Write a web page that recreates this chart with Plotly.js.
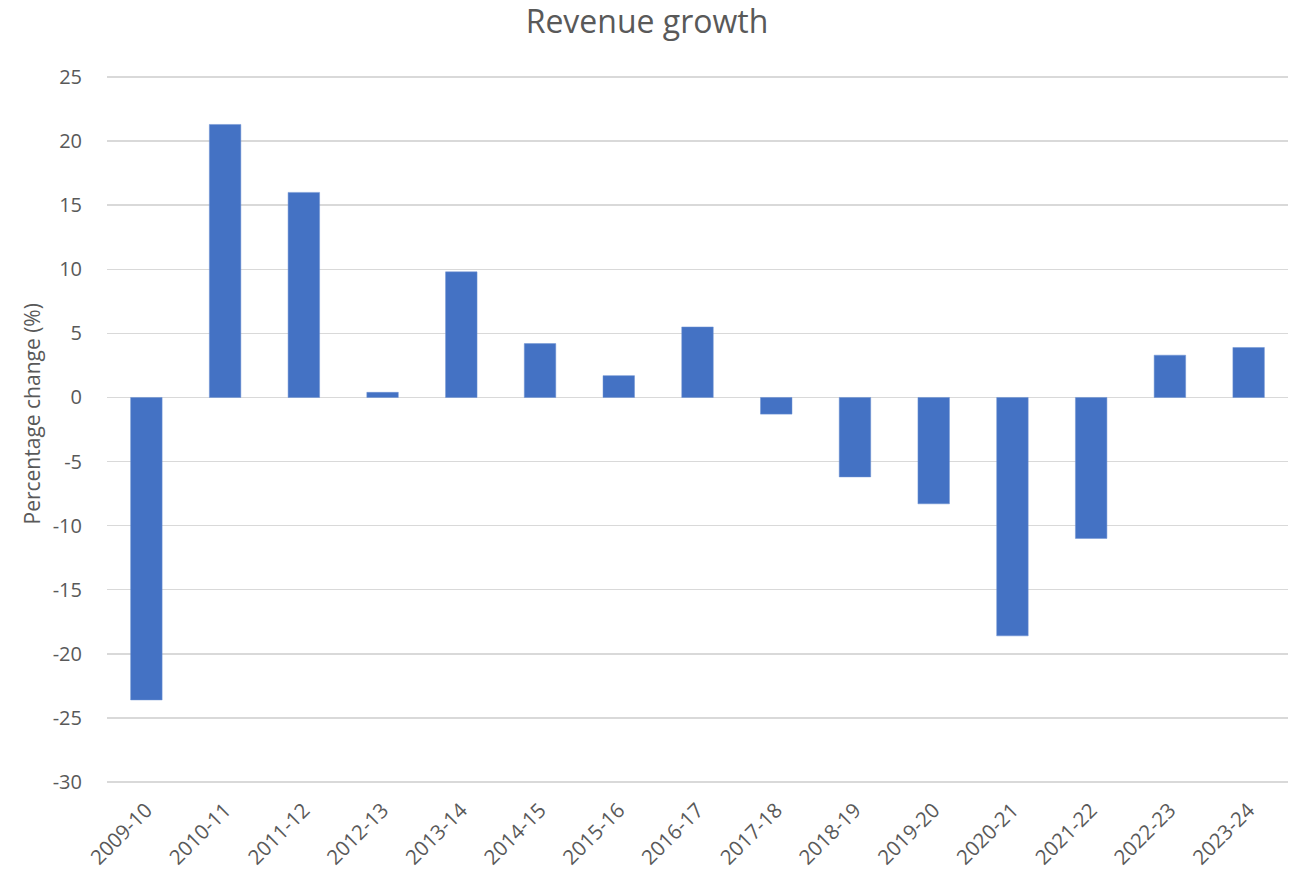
<!DOCTYPE html>
<html>
<head>
<meta charset="utf-8">
<script src="https://cdn.plot.ly/plotly-3.0.1.min.js"></script>
<style>html,body{margin:0;padding:0;background:#fff;}#chart{width:1294px;height:871px;}</style>
</head>
<body>
<div id="chart"></div>
<script>
const years = ["2009-10","2010-11","2011-12","2012-13","2013-14","2014-15","2015-16","2016-17","2017-18","2018-19","2019-20","2020-21","2021-22","2022-23","2023-24"];
const revenueGrowth = [-23.6, 21.3, 16.0, 0.4, 9.8, 4.2, 1.7, 5.5, -1.3, -6.2, -8.3, -18.6, -11.0, 3.3, 3.9];
const yTicks = [25, 20, 15, 10, 5, 0, -5, -10, -15, -20, -25, -30];

const font = "Open Sans, Noto Sans, sans-serif";
const textColor = "#595959";

Plotly.newPlot("chart", [{
  type: "bar",
  x: years,
  y: revenueGrowth,
  marker: {color: "#4472C4", line: {color: "#6f93d3", width: 0.5}},
  hoverinfo: "x+y"
}], {
  width: 1294, height: 871,
  margin: {l: 107, r: 6, t: 76, b: 88, pad: 0},
  paper_bgcolor: "#ffffff",
  plot_bgcolor: "#ffffff",
  bargap: 0.6,
  showlegend: false,
  font: {family: font, color: textColor, size: 20},
  title: {
    text: "Revenue growth",
    font: {family: font, size: 32, color: textColor},
    x: 0.5, xref: "container", xanchor: "center",
    y: 1 - 22/871, yref: "container", yanchor: "middle"
  },
  annotations: [{
    text: "Percentage change (%)",
    textangle: -90,
    showarrow: false,
    xref: "paper", yref: "paper",
    x: -76/1181, xanchor: "center",
    y: (788 - 419.5) / 707, yanchor: "middle",
    font: {family: font, size: 21, color: textColor}
  }],
  xaxis: {
    type: "category",
    tickangle: -45,
    showgrid: false,
    zeroline: false,
    showline: false,
    ticks: "outside", ticklen: 6, tickcolor: "rgba(0,0,0,0)",
    tickfont: {family: font, size: 20.5, color: textColor},
    automargin: false
  },
  yaxis: {
    range: [-30.08, 25.08],
    tickvals: yTicks,
    ticktext: yTicks.map(String),
    showgrid: true,
    gridcolor: "#d9d9d9",
    gridwidth: 1.5,
    zeroline: true,
    zerolinecolor: "#d9d9d9",
    zerolinewidth: 1.5,
    showline: false,
    ticks: "outside", ticklen: 20, tickcolor: "rgba(0,0,0,0)",
    tickfont: {family: font, size: 20, color: textColor},
    automargin: false
  }
}, {displayModeBar: false, staticPlot: true});
</script>
</body>
</html>
